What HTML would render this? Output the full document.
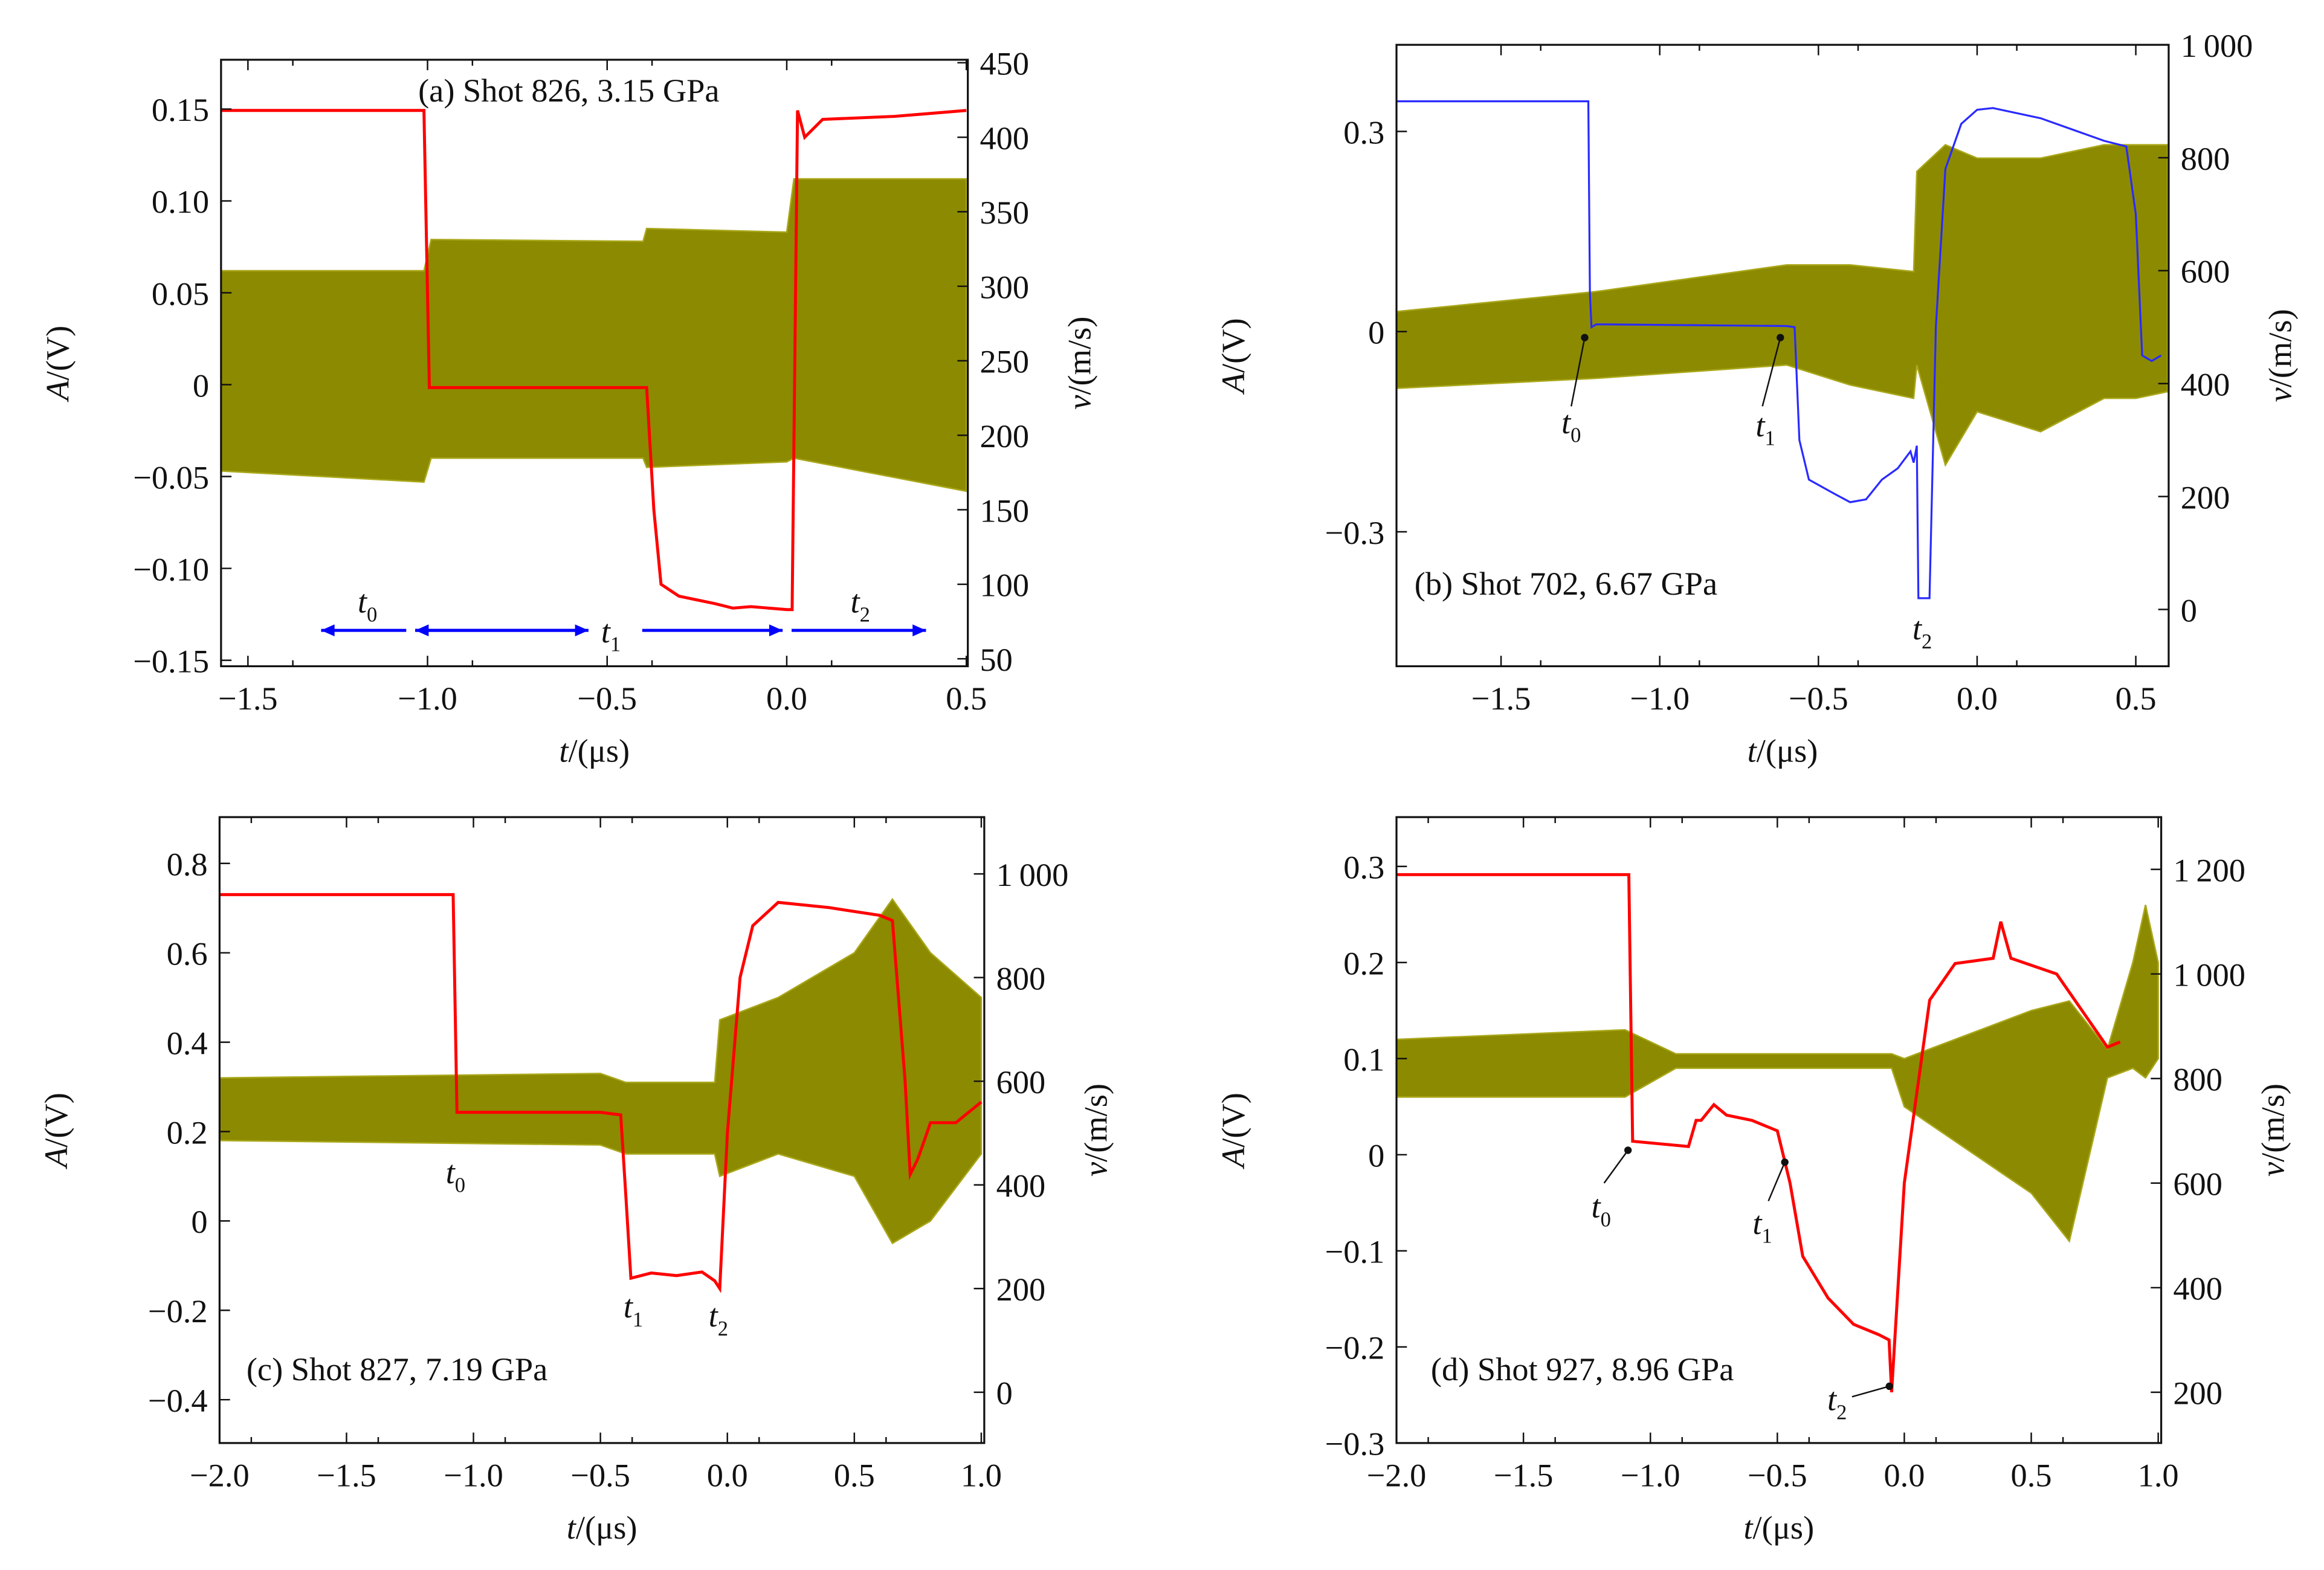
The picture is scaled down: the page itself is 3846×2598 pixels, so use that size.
<!DOCTYPE html>
<html><head><meta charset="utf-8">
<style>
html,body{margin:0;padding:0;background:#fff;}
svg{display:block;font-family:"Liberation Serif",serif;}
</style></head>
<body>
<svg id="chart" width="3846" height="2598" viewBox="0 0 1556 1051" preserveAspectRatio="none" xmlns="http://www.w3.org/2000/svg">
<rect width="1556" height="1051" fill="#fff"/>
</svg>
<script>
// ---- Panel (a) data ----
const aVelT = [-1.575,-1.01,-0.995,-0.39,-0.37,-0.35,-0.3,-0.2,-0.15,-0.1,0.0,0.015,0.03,0.05,0.1,0.3,0.5];
const aVelV = [418,418,232,232,150,100,92,87,84,85,83,83,418,400,412,414,418];
const aEnvT = [-1.575,-1.01,-0.99,-0.4,-0.39,0.0,0.02,0.5];
const aEnvHi = [0.062,0.062,0.079,0.078,0.085,0.083,0.112,0.112];
const aEnvLo = [-0.047,-0.053,-0.04,-0.04,-0.045,-0.042,-0.04,-0.058];
// ---- Panel (b) data ----
const bVelT = [-1.83,-1.225,-1.22,-1.215,-1.2,-0.8,-0.6,-0.575,-0.56,-0.53,-0.45,-0.4,-0.35,-0.3,-0.25,-0.21,-0.2,-0.19,-0.185,-0.15,-0.13,-0.1,-0.05,0.0,0.05,0.2,0.4,0.47,0.5,0.52,0.55,0.58];
const bVelV = [900,900,560,500,505,503,502,500,300,230,205,190,195,230,250,280,260,290,20,20,500,780,860,885,888,870,830,820,700,450,440,450];
const bEnvT = [-1.83,-1.2,-0.6,-0.4,-0.2,-0.19,-0.1,0.0,0.2,0.4,0.5,0.6];
const bEnvHi = [0.03,0.06,0.1,0.1,0.09,0.24,0.28,0.26,0.26,0.28,0.28,0.28];
const bEnvLo = [-0.085,-0.07,-0.05,-0.08,-0.1,-0.05,-0.2,-0.12,-0.15,-0.1,-0.1,-0.09];
// ---- Panel (c) data ----
const cVelT = [-2.0,-1.08,-1.065,-0.5,-0.42,-0.4,-0.38,-0.3,-0.2,-0.1,-0.05,-0.03,0.0,0.05,0.1,0.2,0.4,0.6,0.65,0.7,0.72,0.75,0.8,0.9,1.0];
const cVelV = [960,960,540,540,535,380,220,230,225,232,215,200,500,800,900,945,935,920,910,600,420,450,520,520,560];
const cEnvT = [-2.0,-0.5,-0.4,-0.05,-0.03,0.2,0.5,0.65,0.8,1.0];
const cEnvHi = [0.32,0.33,0.31,0.31,0.45,0.5,0.6,0.72,0.6,0.5];
const cEnvLo = [0.18,0.17,0.15,0.15,0.1,0.15,0.1,-0.05,0.0,0.15];
// ---- Panel (d) data ----
const dVelT = [-2.0,-1.085,-1.07,-0.85,-0.82,-0.8,-0.75,-0.7,-0.6,-0.5,-0.45,-0.4,-0.35,-0.3,-0.2,-0.1,-0.06,-0.05,0.0,0.1,0.2,0.35,0.38,0.42,0.6,0.7,0.8,0.85];
const dVelV = [1190,1190,680,670,720,720,750,730,720,700,600,460,420,380,330,310,300,200,600,950,1020,1030,1100,1030,1000,930,860,870];
const dEnvT = [-2.0,-1.1,-0.9,-0.05,0.0,0.5,0.65,0.8,0.9,0.95,1.0];
const dEnvHi = [0.12,0.13,0.105,0.105,0.1,0.15,0.16,0.11,0.2,0.26,0.2];
const dEnvLo = [0.06,0.06,0.09,0.09,0.05,-0.04,-0.09,0.08,0.09,0.08,0.1];

const NS="http://www.w3.org/2000/svg";
const svg=document.getElementById('chart');
function mk(tag,attrs,parent){const e=document.createElementNS(NS,tag);for(const k in attrs)e.setAttribute(k,attrs[k]);(parent||svg).appendChild(e);return e;}
function txt(x,y,s,size,anchor,parent,name){const t=mk('text',{x:x,y:y,'font-size':size,'text-anchor':anchor||'middle',fill:'#111'},parent);t.textContent=s;


return t;}

function panel(P){
  const g=mk('g',{});
  
  
  const X=t=>P.x0+(t-P.t0)*(P.x1-P.x0)/(P.t1-P.t0);
  const YL=a=>P.yA0+(a-P.a0)*(P.yA1-P.yA0)/(P.a1-P.a0);
  const YR=v=>P.yV0+(v-P.v0)*(P.yV1-P.yV0)/(P.v1-P.v0);
  let pts=P.envT.map((t,i)=>X(t)+','+YL(P.envHi[i]));
  for(let i=P.envT.length-1;i>=0;i--)pts.push(X(P.envT[i])+','+YL(P.envLo[i]));
  const env=mk('polygon',{points:pts.join(' '),fill:'#8c8a00',stroke:'#a9a71a','stroke-width':1},g);
  
  
  const vl=mk('polyline',{points:P.velT.map((t,i)=>X(t)+','+YR(P.velV[i])).join(' '),fill:'none',stroke:P.col,'stroke-width':P.col=='#ff0000'?2:1.3},g);
  
  
  const fr=mk('rect',{x:P.x0b,y:P.y0b,width:P.x1b-P.x0b,height:P.y1b-P.y0b,fill:'none',stroke:'#111','stroke-width':1.3},g);
  
  
  P.xt.forEach(t=>{const x=X(t);mk('line',{x1:x,y1:P.y1b,x2:x,y2:P.y1b-7,stroke:'#111'},g);mk('line',{x1:x,y1:P.y0b,x2:x,y2:P.y0b+7,stroke:'#111'},g);
    txt(x,P.y1b+29,(t<0?'\u2212':'')+Math.abs(t).toFixed(1),22,'middle',g,'x-tick-label');
    const xm=X(t+P.xs/2);if(xm<P.x1b){mk('line',{x1:xm,y1:P.y1b,x2:xm,y2:P.y1b-4,stroke:'#111'},g);mk('line',{x1:xm,y1:P.y0b,x2:xm,y2:P.y0b+4,stroke:'#111'},g);}});
  P.at.forEach(a=>{const y=YL(a);mk('line',{x1:P.x0b,y1:y,x2:P.x0b+7,y2:y,stroke:'#111'},g);
    txt(P.x0b-8,y+8,a==0?'0':(a<0?'\u2212':'')+Math.abs(a).toFixed(P.ad),22,'end',g,'left-tick-label');});
  P.vt.forEach(v=>{const y=YR(v);mk('line',{x1:P.x1b,y1:y,x2:P.x1b-7,y2:y,stroke:'#111'},g);
    txt(P.x1b+8,y+8,v>=1000?'1\u2009'+String(v).slice(1):String(v),22,'start',g,'right-tick-label');});
  txt((P.x0b+P.x1b)/2,P.y1b+64,'',22,'middle',g,'x-axis-title').innerHTML='<tspan font-style="italic">t</tspan>/(μs)';
  const yl=txt(0,0,'',22,'middle',g,'left-axis-title');yl.innerHTML='<tspan font-style="italic">A</tspan>/(V)';yl.setAttribute('transform',`translate(${P.x0b-102},${(P.y0b+P.y1b)/2}) rotate(-90)`);
  const yr=txt(0,0,'',22,'middle',g,'right-axis-title');yr.innerHTML='<tspan font-style="italic">v</tspan>/(m/s)';yr.setAttribute('transform',`translate(${P.x1b+82},${(P.y0b+P.y1b)/2}) rotate(-90)`);
  txt(P.tx,P.ty,P.title,22,'start',g,'panel-title');
  P.ann.forEach(a=>{const t=txt(a[0],a[1],'',22,'middle',g,'time-marker-label');t.innerHTML='<tspan font-style="italic">t</tspan><tspan font-size="14" dy="6">'+a[2]+'</tspan>';
    if(a.length>3){mk('line',{x1:a[3],y1:a[4],x2:a[5],y2:a[6],stroke:'#111','stroke-width':1},g);mk('circle',{cx:a[5],cy:a[6],r:2.5,fill:'#111'},g);}});
  return {g,X};
}
const pa=panel({name:'panel-a',x0b:148,x1b:648,y0b:40,y1b:446,t0:-1.5,t1:0.5,x0:166,x1:647,a0:0.15,a1:-0.15,yA0:73,yA1:442,v0:450,v1:50,yV0:42,yV1:441,
 velT:aVelT,velV:aVelV,envT:aEnvT,envHi:aEnvHi,envLo:aEnvLo,col:'#ff0000',xt:[-1.5,-1.0,-0.5,0,0.5],xs:0.25,at:[0.15,0.1,0.05,0,-0.05,-0.1,-0.15],ad:2,vt:[450,400,350,300,250,200,150,100,50],
 title:'(a) Shot 826, 3.15 GPa',tx:280,ty:68,ann:[[246,410,'0'],[409,430,'1'],[576,410,'2']]});
[[272,215],[278,394],[390,278],[430,524],[530,620]].forEach(p=>{const l=mk('line',{x1:p[0],y1:422,x2:p[1],y2:422,stroke:'#0000ff','stroke-width':2},pa.g);
 const d=p[1]>p[0]?-1:1;mk('polygon',{points:`${p[1]},422 ${p[1]+d*9},418 ${p[1]+d*9},426`,fill:'#0000ff'},pa.g);});
panel({name:'panel-b',x0b:935,x1b:1452,y0b:30,y1b:446,t0:-1.5,t1:0.5,x0:1005,x1:1430,a0:0.3,a1:-0.3,yA0:88,yA1:356,v0:1000,v1:0,yV0:30,yV1:408,
 velT:bVelT,velV:bVelV,envT:bEnvT,envHi:bEnvHi,envLo:bEnvLo,col:'#2a2aff',xt:[-1.5,-1.0,-0.5,0,0.5],xs:0.25,at:[0.3,0,-0.3],ad:1,vt:[1000,800,600,400,200,0],
 title:'(b) Shot 702, 6.67 GPa',tx:947,ty:398,ann:[[1052,290,'0',1052,272,1061,226],[1182,292,'1',1180,272,1192,226],[1287,428,'2']]});
panel({name:'panel-c',x0b:147,x1b:659,y0b:547,y1b:966,t0:-2,t1:1,x0:147,x1:657,a0:0.8,a1:-0.4,yA0:578,yA1:937,v0:1000,v1:0,yV0:585,yV1:932,
 velT:cVelT,velV:cVelV,envT:cEnvT,envHi:cEnvHi,envLo:cEnvLo,col:'#ff0000',xt:[-2,-1.5,-1.0,-0.5,0,0.5,1.0],xs:0.25,at:[0.8,0.6,0.4,0.2,0,-0.2,-0.4],ad:1,vt:[1000,800,600,400,200,0],
 title:'(c) Shot 827, 7.19 GPa',tx:165,ty:924,ann:[[305,792,'0'],[424,882,'1'],[481,888,'2']]});
panel({name:'panel-d',x0b:935,x1b:1447,y0b:547,y1b:966,t0:-2,t1:1,x0:935,x1:1445,a0:0.3,a1:-0.3,yA0:580,yA1:966,v0:1200,v1:200,yV0:582,yV1:932,
 velT:dVelT,velV:dVelV,envT:dEnvT,envHi:dEnvHi,envLo:dEnvLo,col:'#ff0000',xt:[-2,-1.5,-1.0,-0.5,0,0.5,1.0],xs:0.25,at:[0.3,0.2,0.1,0,-0.1,-0.2,-0.3],ad:1,vt:[1200,1000,800,600,400,200],
 title:'(d) Shot 927, 8.96 GPa',tx:958,ty:924,ann:[[1072,815,'0',1074,792,1090,770],[1180,826,'1',1184,804,1195,778],[1230,944,'2',1240,935,1265,928]]});
</script>
</body></html>
